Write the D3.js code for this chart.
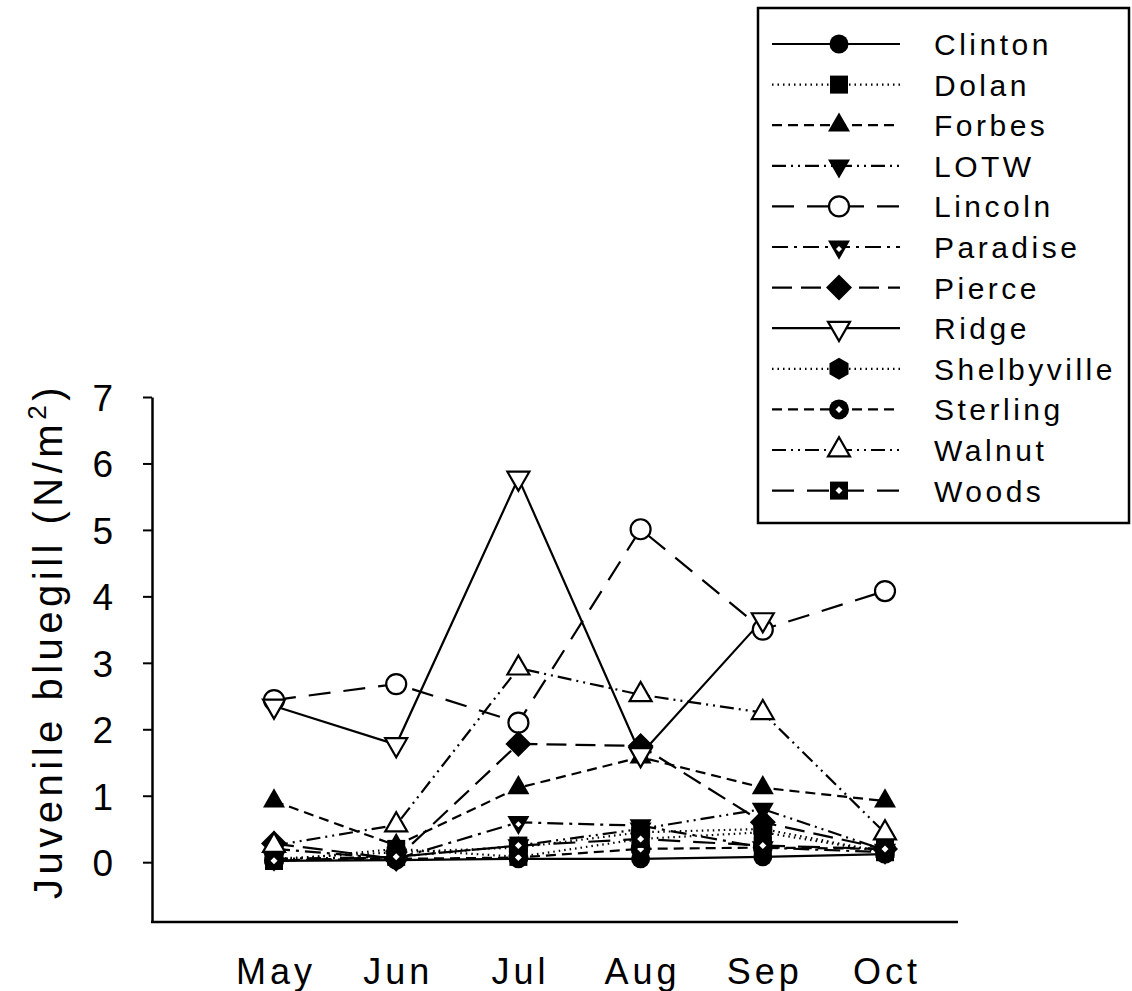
<!DOCTYPE html>
<html>
<head>
<meta charset="utf-8">
<script src="https://cdn.jsdelivr.net/npm/d3@7"></script>
<style>
  body { margin: 0; background: #fff; }
  svg { display: block; }
  text { font-family: Arial, "Liberation Sans", sans-serif; fill: #000; }
</style>
</head>
<body>
<svg id="chart" width="1132" height="991"></svg>
<script>
// ===== DATA =====
const months = ["May", "Jun", "Jul", "Aug", "Sep", "Oct"];
const yTicks = [0, 1, 2, 3, 4, 5, 6, 7];
const sites = ["Clinton", "Dolan", "Forbes", "LOTW", "Lincoln", "Paradise",
               "Pierce", "Ridge", "Shelbyville", "Sterling", "Walnut", "Woods"];

const clinton     = [0.02, 0.03, 0.05, 0.05, 0.08, 0.12];
const dolan       = [0.02, 0.20, 0.08, 0.35, 0.45, 0.15];
const forbes      = [0.92, 0.25, 1.12, 1.58, 1.12, 0.92];
const lotw        = [0.05, 0.08, 0.25, 0.50, 0.80, 0.18];
const lincoln     = [2.44, 2.68, 2.10, 5.01, 3.50, 4.08];
const paradise    = [0.20, 0.05, 0.60, 0.55, 0.22, 0.15];
const pierce      = [0.28, 0.05, 1.78, 1.75, 0.60, 0.20];
const ridge       = [2.35, 1.77, 5.78, 1.62, 3.65, null];
const shelbyville = [0.05, 0.15, 0.22, 0.45, 0.50, 0.15];
const sterling    = [0.03, 0.05, 0.07, 0.20, 0.22, 0.20];
const walnut      = [0.25, 0.56, 2.92, 2.52, 2.25, 0.44];
const woods       = [0.02, 0.08, 0.25, 0.35, 0.25, 0.20];

const seriesValues = [clinton, dolan, forbes, lotw, lincoln, paradise,
                      pierce, ridge, shelbyville, sterling, walnut, woods];

// line dash + marker type per site (same order as sites)
const dashes = ["", "1.5,4", "10,6", "14,5,2,5,2,5", "22,13", "16,6,3,6",
                "20,9", "", "1.5,4", "10,6", "14,5,2,5,2,5", "22,13"];
const markers = ["circle", "square", "triUp", "triDown", "circleOpen", "triDownDot",
                 "diamond", "triDownOpen", "hexagon", "circleDot", "triUpOpen", "squareDot"];

const series = sites.map((name, i) => ({
  name,
  dash: dashes[i],
  marker: markers[i],
  values: seriesValues[i].map((v, j) => ({ month: months[j], value: v }))
}));

// ===== SETUP =====
const svg = d3.select("#chart");

const x = d3.scalePoint().domain(months).range([274, 885]);
const y = d3.scaleLinear().domain([-0.9, 7]).range([922, 397]);

// ===== AXES =====
const yAxis = svg.append("g")
  .attr("transform", "translate(152,0)")
  .call(d3.axisLeft(y).tickValues(yTicks).tickSize(9).tickSizeOuter(0).tickPadding(30).tickFormat(d3.format("d")));
yAxis.select(".domain").attr("stroke-width", 2.5);
yAxis.selectAll(".tick line").attr("stroke-width", 2);
yAxis.selectAll(".tick text")
  .attr("font-size", 37)
  .attr("font-family", "Arial, 'Liberation Sans', sans-serif")
  .attr("dy", "0.36em");

// bottom frame line
svg.append("line")
  .attr("x1", 151).attr("x2", 958)
  .attr("y1", y(-0.9)).attr("y2", y(-0.9))
  .attr("stroke", "#000").attr("stroke-width", 2.5);

// month labels
svg.append("g").selectAll("text")
  .data(months)
  .join("text")
  .attr("x", d => x(d) + 2)
  .attr("y", 984)
  .attr("text-anchor", "middle")
  .attr("font-size", 36)
  .attr("letter-spacing", 4)
  .text(d => d);

// y title
const yTitle = svg.append("text")
  .attr("transform", "translate(62,641) rotate(-90)")
  .attr("text-anchor", "middle")
  .attr("font-size", 40)
  .attr("letter-spacing", 4.5);
yTitle.append("tspan").text("Juvenile bluegill (N/m");
yTitle.append("tspan").attr("font-size", 26).attr("dy", -16).text("2");
yTitle.append("tspan").attr("dy", 16).text(")");

// ===== MARKERS =====
function drawMarker(g, type, cx, cy) {
  const black = "#000";
  const white = "#fff";
  const m = g.append("g").attr("transform", `translate(${cx},${cy})`);
  const tri = (s, down) => {
    const h = s * 0.87;
    return down
      ? `M${-s / 2},${-h / 3}L${s / 2},${-h / 3}L0,${2 * h / 3}Z`
      : `M${-s / 2},${h / 3}L${s / 2},${h / 3}L0,${-2 * h / 3}Z`;
  };
  const dot = () => m.append("path")
    .attr("d", "M0,-3.5L3.5,0L0,3.5L-3.5,0Z")
    .attr("fill", white);
  switch (type) {
    case "circle":
      m.append("circle").attr("r", 9.5).attr("fill", black);
      break;
    case "square":
      m.append("rect").attr("x", -9).attr("y", -9).attr("width", 18).attr("height", 18).attr("fill", black);
      break;
    case "triUp":
      m.append("path").attr("d", tri(22, false)).attr("fill", black);
      break;
    case "triDown":
      m.append("path").attr("d", tri(22, true)).attr("fill", black);
      break;
    case "circleOpen":
      m.append("circle").attr("r", 10).attr("fill", white).attr("stroke", black).attr("stroke-width", 2.2);
      break;
    case "triDownDot":
      m.append("path").attr("d", tri(22, true)).attr("fill", black);
      m.append("path").attr("d", "M0,-1L3,2L0,5L-3,2Z").attr("fill", white);
      break;
    case "diamond":
      m.append("path").attr("d", "M0,-13L13,0L0,13L-13,0Z").attr("fill", black);
      break;
    case "triDownOpen":
      m.append("path").attr("d", tri(22, true)).attr("fill", white).attr("stroke", black).attr("stroke-width", 2.2);
      break;
    case "hexagon":
      m.append("path")
        .attr("d", d3.range(6).map(i => {
          const a = Math.PI / 3 * i + Math.PI / 6;
          return (i ? "L" : "M") + (11 * Math.cos(a)) + "," + (11 * Math.sin(a));
        }).join("") + "Z")
        .attr("fill", black);
      break;
    case "circleDot":
      m.append("circle").attr("r", 10).attr("fill", black);
      dot();
      break;
    case "triUpOpen":
      m.append("path").attr("d", tri(22, false)).attr("fill", white).attr("stroke", black).attr("stroke-width", 2.2);
      break;
    case "squareDot":
      m.append("rect").attr("x", -9).attr("y", -9).attr("width", 18).attr("height", 18).attr("fill", black);
      dot();
      break;
  }
}

// ===== LINES =====
const line = d3.line()
  .defined(d => d.value !== null)
  .x(d => x(d.month))
  .y(d => y(d.value));

const plot = svg.append("g");
series.forEach(s => {
  plot.append("path")
    .datum(s.values)
    .attr("d", line)
    .attr("fill", "none")
    .attr("stroke", "#000")
    .attr("stroke-width", 2.2)
    .attr("stroke-dasharray", s.dash || null);
});
series.forEach(s => {
  s.values.filter(d => d.value !== null).forEach(d => {
    drawMarker(plot, s.marker, x(d.month), y(d.value));
  });
});

// ===== LEGEND =====
const legend = svg.append("g");
legend.append("rect")
  .attr("x", 758).attr("y", 8)
  .attr("width", 371).attr("height", 515)
  .attr("fill", "#fff")
  .attr("stroke", "#000")
  .attr("stroke-width", 2.5);

series.forEach((s, i) => {
  const cy = 44 + i * 40.6;
  legend.append("line")
    .attr("x1", 772).attr("x2", 900)
    .attr("y1", cy).attr("y2", cy)
    .attr("stroke", "#000")
    .attr("stroke-width", 2.2)
    .attr("stroke-dasharray", s.dash || null);
  drawMarker(legend, s.marker, 839, cy);
  legend.append("text")
    .attr("x", 934)
    .attr("y", cy + 11)
    .attr("font-size", 30)
    .attr("letter-spacing", 3.5)
    .text(s.name);
});
</script>
</body>
</html>
